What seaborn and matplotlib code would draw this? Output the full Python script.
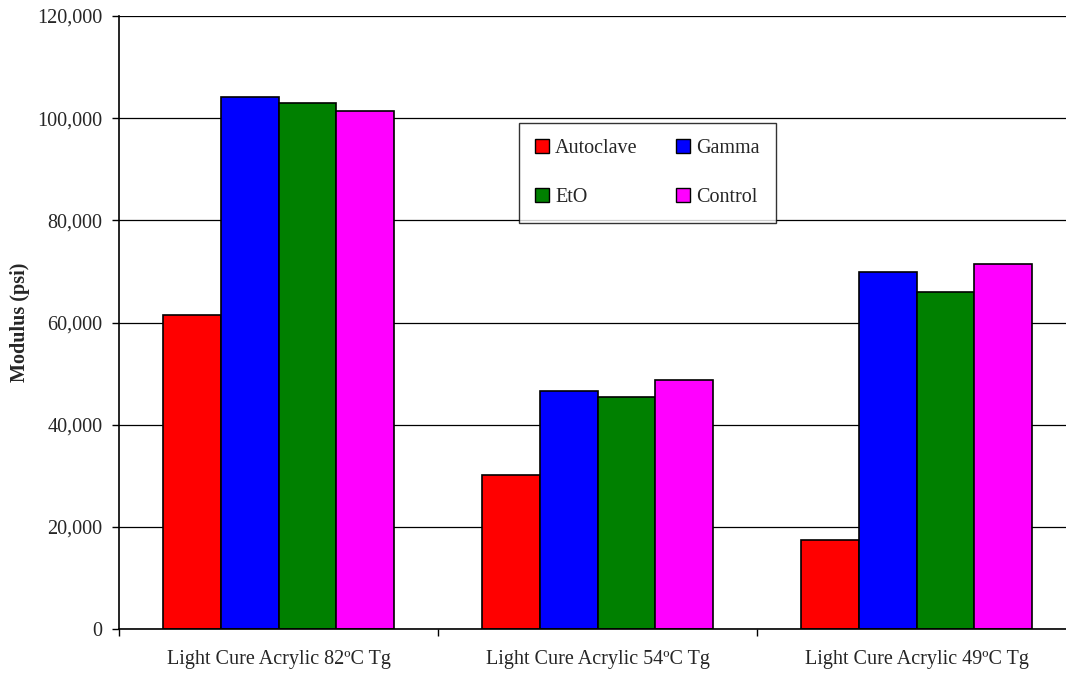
import matplotlib
matplotlib.use("Agg")
import matplotlib.pyplot as plt
import matplotlib.ticker as mticker
from matplotlib.patches import Patch
import pandas as pd
import seaborn as sns

# ----------------------------------------------------------------------------
# Data
# ----------------------------------------------------------------------------
materials = [
    "Light Cure Acrylic 82\u00baC Tg",
    "Light Cure Acrylic 54\u00baC Tg",
    "Light Cure Acrylic 49\u00baC Tg",
]
treatments = ["Autoclave", "Gamma", "EtO", "Control"]
autoclave = [61500, 30100, 17400]
gamma = [104200, 46600, 69800]
eto = [102900, 45400, 66000]
control = [101400, 48700, 71500]
colors = ["#FF0000", "#0000FF", "#008000", "#FF00FF"]

rows = []
for name, values in zip(treatments, [autoclave, gamma, eto, control]):
    for mat, v in zip(materials, values):
        rows.append({"Material": mat, "Treatment": name, "Modulus": v})
df = pd.DataFrame(rows)

FS = 14.5

# ----------------------------------------------------------------------------
# Plot
# ----------------------------------------------------------------------------
sns.set_style("white")
plt.rcParams["font.family"] = ["Liberation Serif", "DejaVu Serif"]

fig = plt.figure(figsize=(10.66, 6.75), dpi=100)
ax = fig.add_axes([119 / 1066, 46 / 675, 957 / 1066, 613 / 675])

sns.barplot(
    data=df,
    x="Material",
    y="Modulus",
    hue="Treatment",
    hue_order=treatments,
    order=materials,
    palette=colors,
    width=0.727,
    edgecolor="black",
    linewidth=1.2,
    saturation=1,
    legend=False,
    ax=ax,
)

ax.set_ylim(0, 120000)
ax.set_xlim(-0.5, 2.5)
ax.yaxis.set_major_locator(mticker.MultipleLocator(20000))
ax.yaxis.set_major_formatter(mticker.StrMethodFormatter("{x:,.0f}"))
ax.yaxis.grid(True, color="black", linewidth=0.9)
ax.set_axisbelow(True)

ax.set_xlabel("")
ax.set_ylabel("Modulus (psi)", fontsize=FS, fontweight="bold", labelpad=5)

# category labels in the middle, tick marks at the boundaries
ax.set_xticks([0, 1, 2])
ax.set_xticklabels(materials)
ax.set_xticks([-0.5, 0.5, 1.5, 2.5], minor=True)
ax.tick_params(axis="x", which="major", length=0, pad=15, labelsize=FS)
ax.tick_params(axis="x", which="minor", length=5, width=1, color="black",
               direction="out", bottom=True)
ax.tick_params(axis="y", length=5, width=1, color="black", direction="out",
               left=True, pad=7, labelsize=FS)

for side in ["top", "right"]:
    ax.spines[side].set_visible(False)
for side in ["left", "bottom"]:
    ax.spines[side].set_color("black")
    ax.spines[side].set_linewidth(1.2)

# legend, filled row by row like the reference
handles = [Patch(facecolor=c, edgecolor="black", linewidth=1) for c in colors]
order = [0, 2, 1, 3]
leg = ax.legend(
    [handles[i] for i in order],
    [treatments[i] for i in order],
    ncol=2,
    loc="upper left",
    bbox_to_anchor=(0.418, 0.826),
    frameon=True,
    fancybox=False,
    edgecolor="black",
    fontsize=FS,
    handlelength=0.7,
    handleheight=0.7,
    handletextpad=0.3,
    columnspacing=1.9,
    labelspacing=1.5,
    borderpad=0.8,
    borderaxespad=0,
)
leg.get_frame().set_linewidth(1)

fig.savefig("out.png", dpi=100)
